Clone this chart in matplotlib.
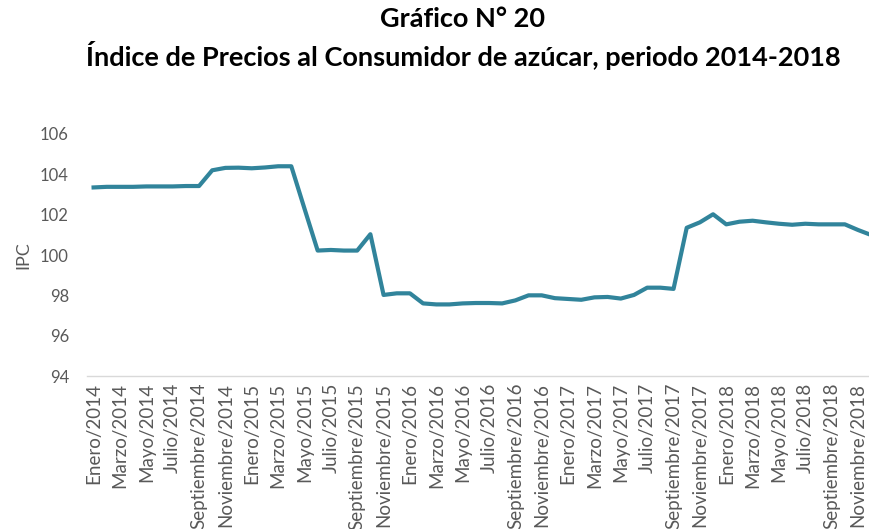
import matplotlib
matplotlib.use("Agg")
import matplotlib.pyplot as plt

# meses enero 2014 - diciembre 2018
meses = ["Enero", "Febrero", "Marzo", "Abril", "Mayo", "Junio", "Julio",
         "Agosto", "Septiembre", "Octubre", "Noviembre", "Diciembre"]
anios = [2014, 2015, 2016, 2017, 2018]
periodos = [f"{m}/{a}" for a in anios for m in meses]

ipc = [103.35, 103.38, 103.38, 103.38, 103.40, 103.40, 103.40, 103.42, 103.42,
       104.20, 104.32, 104.33, 104.30, 104.34, 104.40, 104.40,
       102.30, 100.22, 100.25, 100.22, 100.22, 101.03,
       98.02, 98.10, 98.10, 97.60, 97.55, 97.55, 97.60, 97.62, 97.62, 97.60,
       97.75, 98.00, 98.00, 97.86, 97.82, 97.78, 97.90, 97.92, 97.84, 98.02,
       98.38, 98.38, 98.32, 101.35, 101.62, 102.02, 101.52, 101.65, 101.70,
       101.62, 101.55, 101.50, 101.55, 101.52, 101.52, 101.52, 101.24, 100.99]

yticks = [94, 96, 98, 100, 102, 104, 106]

plt.rcParams['font.family'] = ['Lato', 'DejaVu Sans']
gris = '#595959'

fig = plt.figure(figsize=(8.7, 5.29), dpi=100)
ax = fig.add_axes([0.1, 0.2892, 0.909, 0.4575])

x = list(range(len(periodos)))
ax.plot(x, ipc, color='#31849B', linewidth=3.0, solid_joinstyle='round')

ax.set_xlim(-0.5, len(periodos) - 0.5)
ax.set_ylim(94, 106)
ax.set_yticks(yticks)
ax.set_yticklabels([str(v) for v in yticks], color=gris, fontsize=12)
ax.set_xticks(x[::2])
ax.set_xticklabels(periodos[::2], rotation=90, color=gris, fontsize=13.5)
ax.tick_params(axis='x', length=0, pad=5)
ax.tick_params(axis='y', length=0, pad=13)

for s in ['top', 'right', 'left']:
    ax.spines[s].set_visible(False)
ax.spines['bottom'].set_color('#d9d9d9')
ax.spines['bottom'].set_linewidth(1)

ax.set_ylabel('IPC', color=gris, fontsize=13, labelpad=6)

fig.text(0.532, 0.964, 'Gráfico N° 20', ha='center', va='center',
         fontsize=19.5, fontweight='bold')
fig.text(0.532, 0.896, 'Índice de Precios al Consumidor de azúcar, periodo 2014-2018',
         ha='center', va='center', fontsize=19.5, fontweight='bold')

fig.savefig('out.png', dpi=100)
